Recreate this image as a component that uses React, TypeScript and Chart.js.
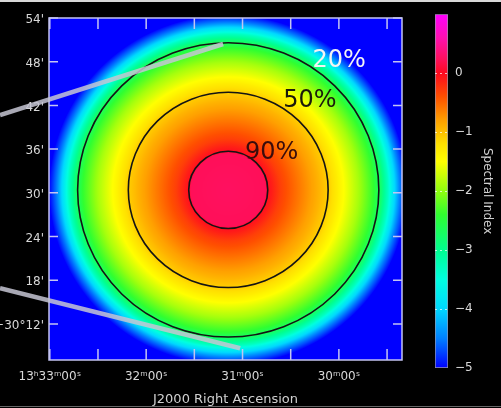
import React, { useEffect, useRef } from "react";
import { Chart, registerables } from "chart.js";
Chart.register(...registerables);
Chart.defaults.font.family = '"DejaVu Sans", sans-serif';

// RA in seconds of time past 13h00m, Dec in arcmin past +30°00'
const raMin = 1760.7;
const raMax = 1980.5;
const decMin = 7.05;
const decMax = 54.0;

const xTickValues = [1770, 1800, 1830, 1860, 1890, 1920, 1950, 1980];
const xTickLabels = ["", "30ᵐ00ˢ", "", "31ᵐ00ˢ", "", "32ᵐ00ˢ", "", "13ʰ33ᵐ00ˢ"];
const yTickValues = [12, 18, 24, 30, 36, 42, 48, 54];
const yTickLabels = ["+30°12'", "18'", "24'", "30'", "36'", "42'", "48'", "54'"];

// source centre
const sourceRA = 1868.9;
const sourceDec = 30.4;

// radial spectral-index profile (radius in arcmin)
const profileRadius = [0, 5.0, 5.5, 7.0, 9.5, 12.0, 13.5, 15.5, 17.5, 19.5, 20.5, 21.4, 22.2, 23.0, 24.0];
const profileIndex = [0.25, 0.22, -0.05, -0.3, -0.6, -0.9, -1.1, -1.5, -1.9, -2.4, -2.8, -3.3, -3.9, -4.5, -5.0];

// contours
const contourLabels = ["90%", "50%", "20%"];
const contourRadius = [5.3, 13.4, 20.2];

// callout lines (RA s, Dec arcmin)
const calloutStartRA = [2011, 2011];
const calloutStartDec = [40.68, 16.9];
const calloutEndRA = [1872.1, 1861.5];
const calloutEndDec = [50.43, 8.67];

// colour scale
const cmapValues = [-5, -4.5, -4, -3.5, -3, -2.4, -2, -1.5, -1.2, -0.8, -0.4, 0, 0.25, 0.6, 1];
const cmapColors = ["#0000ff", "#0080ff", "#00d8ff", "#00ffe0", "#00ff90", "#30ff30", "#90ff10", "#ffff00", "#ffe000", "#ffa000", "#ff5000", "#ff0a20", "#ff1060", "#ff10b0", "#ff00ff"];
const cbTickValues = [-5, -4, -3, -2, -1, 0, 1];
const cbTickLabels = ["−5", "−4", "−3", "−2", "−1", "0", ""];

function hexRgb(h: string) {
  return [parseInt(h.slice(1, 3), 16), parseInt(h.slice(3, 5), 16), parseInt(h.slice(5, 7), 16)];
}
function colorAt(v: number) {
  if (v <= cmapValues[0]) return cmapColors[0];
  for (let i = 1; i < cmapValues.length; i++) {
    if (v <= cmapValues[i]) {
      const t = (v - cmapValues[i - 1]) / (cmapValues[i] - cmapValues[i - 1]);
      const a = hexRgb(cmapColors[i - 1]);
      const b = hexRgb(cmapColors[i]);
      const c = a.map((x, k) => Math.round(x + (b[k] - x) * t));
      return `rgb(${c[0]},${c[1]},${c[2]})`;
    }
  }
  return cmapColors[cmapColors.length - 1];
}
function profileAt(r: number) {
  for (let i = 1; i < profileRadius.length; i++) {
    if (r <= profileRadius[i]) {
      const t = (r - profileRadius[i - 1]) / (profileRadius[i] - profileRadius[i - 1]);
      return profileIndex[i - 1] + (profileIndex[i] - profileIndex[i - 1]) * t;
    }
  }
  return profileIndex[profileIndex.length - 1];
}

const labelStyle = [
  { angle: 41, off: 18, color: "#3a0c0c" },
  { angle: 48, off: 22, color: "#1a1a0c" },
  { angle: 50, off: 22, color: "#f4f4f4" },
];
const frameColor = "#c4c4f2";

function geom(chart: any) {
  const { x, y } = chart.scales;
  const cx = x.getPixelForValue(sourceRA);
  const cy = y.getPixelForValue(sourceDec);
  const cosd = Math.cos(((30 + sourceDec / 60) * Math.PI) / 180);
  const secPerArcmin = 60 / (15 * cosd);
  const sx = Math.abs(x.getPixelForValue(sourceRA + secPerArcmin) - cx);
  const sy = Math.abs(y.getPixelForValue(sourceDec + 1) - cy);
  return { cx, cy, sx, sy };
}

const skyPlugin = {
  id: "sky",
  beforeDatasetsDraw(chart: any) {
    const { ctx, chartArea: a } = chart;
    const { cx, cy, sx, sy } = geom(chart);
    ctx.save();
    ctx.beginPath();
    ctx.rect(a.left, a.top, a.right - a.left, a.bottom - a.top);
    ctx.clip();
    ctx.fillStyle = colorAt(profileIndex[profileIndex.length - 1]);
    ctx.fillRect(a.left, a.top, a.right - a.left, a.bottom - a.top);
    ctx.save();
    ctx.translate(cx, cy);
    ctx.scale(sx, sy);
    const R = profileRadius[profileRadius.length - 1];
    const g = ctx.createRadialGradient(0, 0, 0, 0, 0, R);
    const N = 240;
    for (let i = 0; i <= N; i++) {
      g.addColorStop(i / N, colorAt(profileAt((R * i) / N)));
    }
    ctx.fillStyle = g;
    ctx.beginPath();
    ctx.arc(0, 0, R, 0, Math.PI * 2);
    ctx.fill();
    ctx.restore();
    ctx.strokeStyle = "#141414";
    ctx.lineWidth = 1.6;
    contourRadius.forEach((r) => {
      ctx.beginPath();
      ctx.ellipse(cx, cy, r * sx, r * sy, 0, 0, Math.PI * 2);
      ctx.stroke();
    });
    ctx.restore();

    // frame + inward ticks
    const { x, y } = chart.scales;
    ctx.save();
    ctx.strokeStyle = frameColor;
    ctx.lineWidth = 1.5;
    ctx.strokeRect(a.left, a.top, a.right - a.left, a.bottom - a.top);
    ctx.beginPath();
    x.ticks.forEach((t: any) => {
      const px = x.getPixelForValue(t.value);
      ctx.moveTo(px, a.bottom);
      ctx.lineTo(px, a.bottom - 11);
      ctx.moveTo(px, a.top);
      ctx.lineTo(px, a.top + 11);
    });
    y.ticks.forEach((t: any) => {
      const py = y.getPixelForValue(t.value);
      ctx.moveTo(a.left, py);
      ctx.lineTo(a.left + 9, py);
      ctx.moveTo(a.right, py);
      ctx.lineTo(a.right - 9, py);
    });
    ctx.stroke();
    ctx.restore();
  },
  afterDatasetsDraw(chart: any) {
    const { ctx } = chart;
    const { cx, cy, sx, sy } = geom(chart);
    ctx.save();
    ctx.font = '24px "DejaVu Sans"';
    ctx.textAlign = "center";
    ctx.textBaseline = "middle";
    contourLabels.forEach((lab, i) => {
      const st = labelStyle[i];
      const th = (st.angle * Math.PI) / 180;
      const r = contourRadius[i];
      const px = cx + (r * sx + st.off) * Math.cos(th);
      const py = cy - (r * sy + st.off) * Math.sin(th);
      ctx.fillStyle = st.color;
      ctx.fillText(lab, px, py);
    });
    ctx.restore();
  },
};

export default function App() {
  const mainRef = useRef<HTMLCanvasElement>(null);
  const cbRef = useRef<HTMLCanvasElement>(null);

  useEffect(() => {
    const main = new Chart(mainRef.current as HTMLCanvasElement, {
      type: "scatter",
      data: {
        datasets: calloutStartRA.map((_, i) => ({
          data: [
            { x: calloutStartRA[i], y: calloutStartDec[i] },
            { x: calloutEndRA[i], y: calloutEndDec[i] },
          ],
          showLine: true,
          borderColor: "rgba(198,198,212,0.85)",
          borderWidth: 4.5,
          pointRadius: 0,
          clip: false,
        })),
      },
      options: {
        responsive: false,
        animation: false,
        layout: { padding: { top: 18, right: 99, left: 0, bottom: 0 } },
        plugins: { legend: { display: false }, tooltip: { enabled: false } },
        scales: {
          x: {
            type: "linear",
            position: "bottom",
            reverse: true,
            min: raMin,
            max: raMax,
            afterBuildTicks: (s: any) => {
              s.ticks = xTickValues.map((v) => ({ value: v }));
            },
            afterFit: (s: any) => {
              s.height = 48;
            },
            grid: { display: false, drawTicks: false },
            border: { display: false },
            ticks: {
              autoSkip: false,
              maxRotation: 0,
              padding: 10,
              color: "#d8d8d8",
              font: { size: 12 },
              callback: (v: any) => xTickLabels[xTickValues.indexOf(Number(v))] ?? "",
            },
            title: {
              display: true,
              text: "J2000 Right Ascension",
              color: "#d0d0d0",
              font: { size: 13 },
              padding: { top: 0, bottom: 1 },
            },
          },
          y: {
            type: "linear",
            position: "left",
            min: decMin,
            max: decMax,
            afterBuildTicks: (s: any) => {
              s.ticks = yTickValues.map((v) => ({ value: v }));
            },
            afterFit: (s: any) => {
              s.width = 49;
            },
            grid: { display: false, drawTicks: false },
            border: { display: false },
            ticks: {
              autoSkip: false,
              padding: 5,
              labelOffset: 2,
              color: "#d8d8d8",
              font: { size: 12 },
              callback: (v: any) => yTickLabels[yTickValues.indexOf(Number(v))] ?? "",
            },
          },
        },
      },
      plugins: [skyPlugin],
    } as any);

    const cb = new Chart(cbRef.current as HTMLCanvasElement, {
      type: "bar",
      data: {
        labels: [""],
        datasets: [
          {
            data: [[cmapValues[0], cmapValues[cmapValues.length - 1]]],
            backgroundColor: (c: any) => {
              const chart = c.chart;
              if (!chart.chartArea) return "#000";
              const s = chart.scales.y;
              const lo = cmapValues[0];
              const hi = cmapValues[cmapValues.length - 1];
              const g = chart.ctx.createLinearGradient(0, s.getPixelForValue(lo), 0, s.getPixelForValue(hi));
              const N = 120;
              for (let i = 0; i <= N; i++) g.addColorStop(i / N, colorAt(lo + ((hi - lo) * i) / N));
              return g;
            },
            borderColor: "rgba(190,190,215,0.8)",
            borderWidth: 1,
            borderSkipped: false,
            barPercentage: 1,
            categoryPercentage: 1,
          },
        ],
      },
      options: {
        responsive: false,
        animation: false,
        layout: { padding: { left: 25, top: 8, bottom: 40, right: 0 } },
        plugins: { legend: { display: false }, tooltip: { enabled: false } },
        scales: {
          x: { display: false },
          y: {
            position: "right",
            min: -5,
            max: 1,
            afterBuildTicks: (s: any) => {
              s.ticks = cbTickValues.map((v) => ({ value: v }));
            },
            afterFit: (s: any) => {
              s.width = 53;
            },
            grid: {
              z: 1,
              drawTicks: false,
              lineWidth: 1,
              color: (c: any) =>
                c.tick && (c.tick.value === -5 || c.tick.value === 1) ? "rgba(0,0,0,0)" : "rgba(255,255,255,0.7)",
            },
            border: { display: false, dash: [2, 3] },
            ticks: {
              autoSkip: false,
              padding: 7,
              color: "#d8d8d8",
              font: { size: 12 },
              callback: (v: any) => cbTickLabels[cbTickValues.indexOf(Number(v))] ?? "",
            },
            title: {
              display: true,
              text: "Spectral Index",
              color: "#d0d0d0",
              font: { size: 12 },
              padding: { top: 7, bottom: 0 },
            },
          },
        },
      },
    } as any);

    return () => {
      main.destroy();
      cb.destroy();
    };
  }, []);

  return (
    <div
      style={{
        position: "fixed",
        left: 0,
        top: 0,
        width: 501,
        height: 408,
        background: "#000",
        overflow: "hidden",
      }}
    >
      <canvas
        ref={mainRef}
        width={501}
        height={408}
        style={{ position: "absolute", left: 0, top: 0, width: 501, height: 408 }}
      />
      <canvas
        ref={cbRef}
        width={91}
        height={408}
        style={{ position: "absolute", left: 410, top: 0, width: 91, height: 408 }}
      />
      <div style={{ position: "absolute", left: 0, top: 0, width: 501, height: 2, background: "#d8d8d8" }} />
      <div style={{ position: "absolute", left: 0, bottom: 1, width: 501, height: 1, background: "#666" }} />
    </div>
  );
}
